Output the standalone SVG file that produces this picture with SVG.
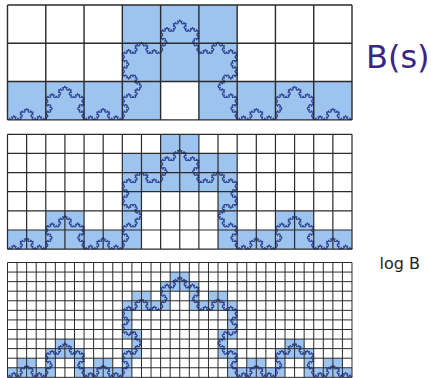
<svg xmlns="http://www.w3.org/2000/svg" width="431" height="378" viewBox="0 0 431 378">
<style>
.f{fill:#9dc3ef;stroke:none}
.ln{fill:none;stroke:#2b2b2b;vector-effect:non-scaling-stroke}
.kc{fill:none;stroke:#2c3f90;stroke-width:1;stroke-linecap:round}
.lbl{font-family:"DejaVu Sans","Liberation Sans",sans-serif}
</style>
<defs>
<path id="k0" class="kc" d="M0 0H1.4177"/>
<g id="k1"><use href="#k0"/><use href="#k0" transform="translate(1.4177,0) rotate(-60)"/><use href="#k0" transform="translate(2.12655,-1.22777) rotate(60)"/><use href="#k0" transform="translate(2.8354,0)"/></g>
<g id="k2"><use href="#k1"/><use href="#k1" transform="translate(4.2531,0) rotate(-60)"/><use href="#k1" transform="translate(6.37965,-3.68332) rotate(60)"/><use href="#k1" transform="translate(8.5062,0)"/></g>
<g id="k3"><use href="#k2"/><use href="#k2" transform="translate(12.7593,0) rotate(-60)"/><use href="#k2" transform="translate(19.1389,-11.0498) rotate(60)"/><use href="#k2" transform="translate(25.5186,0)"/></g>
<g id="k4"><use href="#k3"/><use href="#k3" transform="translate(38.2778,0) rotate(-60)"/><use href="#k3" transform="translate(57.4167,-33.1495) rotate(60)"/><use href="#k3" transform="translate(76.5556,0)"/></g>
<g id="k5"><use href="#k4"/><use href="#k4" transform="translate(114.8333,0) rotate(-60)"/><use href="#k4" transform="translate(172.25,-99.4486) rotate(60)"/><use href="#k4" transform="translate(229.6667,0)"/></g>
</defs>
<rect width="431" height="378" fill="#fff"/>

<g id="grid1">
<g transform="translate(7.5,5) scale(38.2778)">
<rect class="f" x="3" y="0" width="3" height="2"/>
<rect class="f" x="0" y="2" width="4" height="1"/>
<rect class="f" x="5" y="2" width="4" height="1"/>
</g>
<use href="#k5" transform="translate(7.5,119.5)"/>
<path class="ln" style="stroke-width:1.4" transform="translate(7.5,5) scale(38.2778)" d="M0 0V3M1 0V3M2 0V3M3 0V3M4 0V3M5 0V3M6 0V3M7 0V3M8 0V3M9 0V3M0 0H9M0 1H9M0 2H9M0 3H9"/>
</g>

<g id="grid2">
<g transform="translate(7.5,134.3) scale(19.1389)">
<rect class="f" x="8" y="0" width="2" height="1"/>
<rect class="f" x="6" y="1" width="6" height="2"/>
<rect class="f" x="6" y="3" width="1" height="2"/>
<rect class="f" x="11" y="3" width="1" height="2"/>
<rect class="f" x="2" y="4" width="2" height="1"/>
<rect class="f" x="14" y="4" width="2" height="1"/>
<rect class="f" x="0" y="5" width="7" height="1"/>
<rect class="f" x="11" y="5" width="7" height="1"/>
</g>
<use href="#k5" transform="translate(7.5,248.8)"/>
<path class="ln" style="stroke-width:1.2" transform="translate(7.5,134.3) scale(19.1389)" d="M0 0V6M1 0V6M2 0V6M3 0V6M4 0V6M5 0V6M6 0V6M7 0V6M8 0V6M9 0V6M10 0V6M11 0V6M12 0V6M13 0V6M14 0V6M15 0V6M16 0V6M17 0V6M18 0V6M0 0H18M0 1H18M0 2H18M0 3H18M0 4H18M0 5H18M0 6H18"/>
</g>

<g id="grid3">
<g transform="translate(7.5,262.5) scale(9.5694)">
<rect class="f" x="17" y="1" width="2" height="1"/>
<rect class="f" x="16" y="2" width="4" height="1"/>
<rect class="f" x="13" y="3" width="2" height="1"/>
<rect class="f" x="16" y="3" width="1" height="1"/>
<rect class="f" x="19" y="3" width="1" height="1"/>
<rect class="f" x="21" y="3" width="2" height="1"/>
<rect class="f" x="12" y="4" width="5" height="1"/>
<rect class="f" x="19" y="4" width="5" height="1"/>
<rect class="f" x="12" y="5" width="1" height="3"/>
<rect class="f" x="23" y="5" width="1" height="3"/>
<rect class="f" x="13" y="7" width="1" height="3"/>
<rect class="f" x="22" y="7" width="1" height="3"/>
<rect class="f" x="5" y="8" width="2" height="1"/>
<rect class="f" x="29" y="8" width="2" height="1"/>
<rect class="f" x="4" y="9" width="4" height="1"/>
<rect class="f" x="12" y="9" width="1" height="3"/>
<rect class="f" x="23" y="9" width="1" height="3"/>
<rect class="f" x="28" y="9" width="4" height="1"/>
<rect class="f" x="1" y="10" width="2" height="1"/>
<rect class="f" x="4" y="10" width="1" height="1"/>
<rect class="f" x="7" y="10" width="1" height="1"/>
<rect class="f" x="9" y="10" width="2" height="1"/>
<rect class="f" x="25" y="10" width="2" height="1"/>
<rect class="f" x="28" y="10" width="1" height="1"/>
<rect class="f" x="31" y="10" width="1" height="1"/>
<rect class="f" x="33" y="10" width="2" height="1"/>
<rect class="f" x="0" y="11" width="5" height="1"/>
<rect class="f" x="7" y="11" width="5" height="1"/>
<rect class="f" x="24" y="11" width="5" height="1"/>
<rect class="f" x="31" y="11" width="5" height="1"/>
</g>
<use href="#k5" transform="translate(7.5,376.2)"/>
<path class="ln" style="stroke-width:1" transform="translate(7.5,262.5) scale(9.5694)" d="M0 0V12M1 0V12M2 0V12M3 0V12M4 0V12M5 0V12M6 0V12M7 0V12M8 0V12M9 0V12M10 0V12M11 0V12M12 0V12M13 0V12M14 0V12M15 0V12M16 0V12M17 0V12M18 0V12M19 0V12M20 0V12M21 0V12M22 0V12M23 0V12M24 0V12M25 0V12M26 0V12M27 0V12M28 0V12M29 0V12M30 0V12M31 0V12M32 0V12M33 0V12M34 0V12M35 0V12M36 0V12M0 0H36M0 1H36M0 2H36M0 3H36M0 4H36M0 5H36M0 6H36M0 7H36M0 8H36M0 9H36M0 10H36M0 11H36M0 12H36"/>
</g>

<g id="labels">
<text class="lbl" x="366" y="67.5" font-size="32" fill="#3a2585">B(s)</text>
<text class="lbl" x="379.5" y="269" font-size="16" fill="#1e1e1e">log B</text>
</g>
</svg>
